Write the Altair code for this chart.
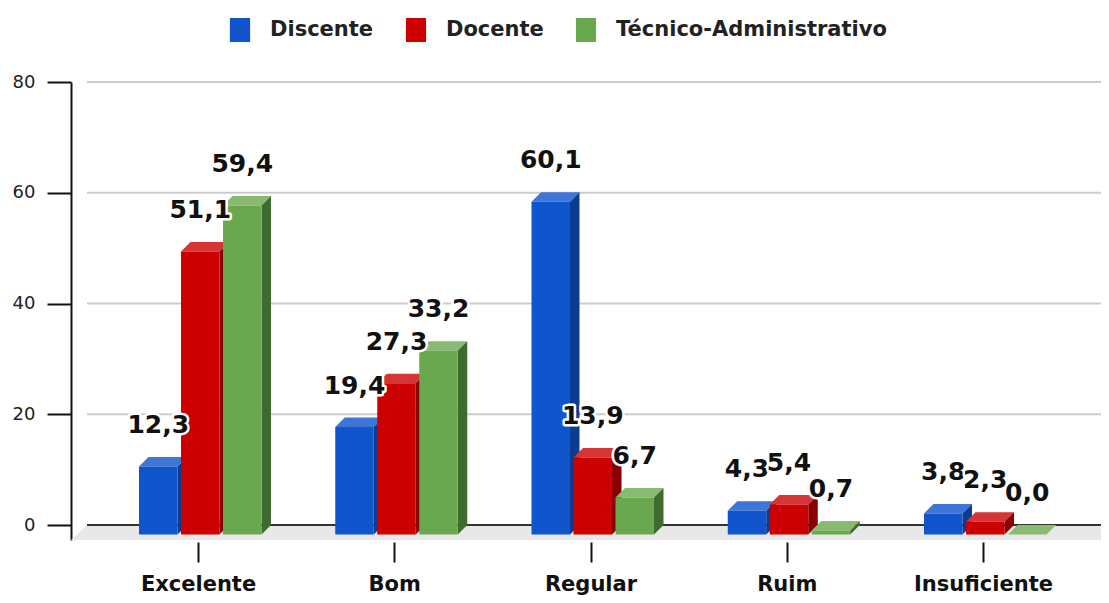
import json
import altair as alt
import pandas as pd

# ---------------- data ----------------
categories = ["Excelente", "Bom", "Regular", "Ruim", "Insuficiente"]
series = ["Discente", "Docente", "Técnico-Administrativo"]
discente = [12.3, 19.4, 60.1, 4.3, 3.8]
docente = [51.1, 27.3, 13.9, 5.4, 2.3]
tecnico = [59.4, 33.2, 6.7, 0.7, 0.0]
y_ticks = [0, 20, 40, 60, 80]
grid_values = [20, 40, 60, 80]

# ---------------- styles ----------------
front_colors = ["#1155CC", "#CC0000", "#6AA84F"]
top_colors = ["#3F75D6", "#D63535", "#88BB70"]
side_colors = ["#0C3C8F", "#880000", "#3F6B30"]

W_PX, H_PX = 1030, 458
STEP_PX = 196.25          # pixels per category
VPX = 5.5375              # pixels per value unit
X_MIN = -127 / STEP_PX
X_MAX = X_MIN + W_PX / STEP_PX
Y_MAX = 80
Y_MIN = Y_MAX - H_PX / VPX
DEPTH = 9.5
DX = DEPTH / STEP_PX
DY = DEPTH / VPX
BAR_W = 38.5 / STEP_PX
BAR_STEP = 42 / STEP_PX
GROUP_START = -59 / STEP_PX
WALL_X = X_MIN + 16 / STEP_PX

values_by_series = [discente, docente, tecnico]

front_rows, top_rows, side_rows = [], [], []
for j, s in enumerate(series):
    for i, c in enumerate(categories):
        v = values_by_series[j][i]
        key = f"{s}-{c}"
        x0 = i + GROUP_START + j * BAR_STEP
        x1 = x0 + BAR_W
        front_rows.append(dict(key=key, series=s, cat=c, x0=x0, x1=x1,
                               yt=v - DY, yb=-DY, v=v, xc=(x0 + x1) / 2,
                               label=f"{v:.1f}".replace(".", ",")))
        top_rows.append(dict(key=key, series=s, y=v - DY, xa=x0, xb=x1))
        top_rows.append(dict(key=key, series=s, y=v, xa=x0 + DX, xb=x1 + DX))
        side_rows.append(dict(key=key, series=s, x=x1, ya=v - DY, yb=-DY))
        side_rows.append(dict(key=key, series=s, x=x1 + DX, ya=v, yb=0))

front_df = pd.DataFrame(front_rows)
top_df = pd.DataFrame(top_rows)
side_df = pd.DataFrame(side_rows)
grid_df = pd.DataFrame({"v": grid_values, "xa": WALL_X, "xb": X_MAX})
zero_df = pd.DataFrame({"v": [0], "xa": [WALL_X], "xb": [X_MAX]})
floor_df = pd.DataFrame({"y": [0, Y_MIN], "xa": [WALL_X, X_MIN], "xb": [X_MAX, X_MAX], "k": ["f", "f"]})

xs = alt.Scale(domain=[X_MIN, X_MAX], nice=False, zero=False)
ys = alt.Scale(domain=[Y_MIN, Y_MAX], nice=False, zero=False)

y_axis = alt.Axis(values=y_ticks, title=None, grid=False, domain=True,
                  domainColor="#111111", domainWidth=2, tickColor="#111111",
                  tickWidth=2, tickSize=24, labelFont="DejaVu Sans",
                  labelFontSize=18, labelColor="#222222", labelPadding=12)
x_axis = alt.Axis(values=list(range(len(categories))),
                  labelExpr=f"{json.dumps(categories, ensure_ascii=False)}[datum.value]",
                  title=None, grid=False, domain=False, ticks=True, tickSize=20,
                  tickWidth=2, tickColor="#111111", offset=2,
                  labelFont="DejaVu Sans", labelFontSize=21, labelFontWeight="bold",
                  labelColor="#111111", labelPadding=11, labelFlush=False,
                  labelOverlap=False, labelBound=False)


def X(field, **kw):
    return alt.X(field, scale=xs, axis=x_axis, **kw)


def Y(field, **kw):
    return alt.Y(field, scale=ys, axis=y_axis, **kw)


layers = []

grid = alt.Chart(grid_df).mark_rule(color="#CCCCCC", strokeWidth=2).encode(
    y=Y("v:Q"), x=X("xa:Q"), x2="xb:Q",
)
layers.append(grid)

floor = alt.Chart(floor_df).mark_area(orient="horizontal", color="#E8E8E8", opacity=1).encode(
    y=Y("y:Q", stack=None), x=X("xa:Q", stack=None), x2="xb:Q", detail="k:N",
)
layers.append(floor)

zero = alt.Chart(zero_df).mark_rule(color="#333333", strokeWidth=2).encode(
    y=Y("v:Q"), x=X("xa:Q"), x2="xb:Q",
)
layers.append(zero)

legend = alt.Legend(
    orient="none", legendX=157, legendY=-64, direction="horizontal", title=None,
    symbolType="M-0.84,-1H0.84V1H-0.84Z", symbolSize=576, symbolStrokeWidth=0,
    symbolOpacity=1, labelFont="DejaVu Sans", labelFontSize=21,
    labelFontWeight="bold", labelColor="#222222", labelOffset=18,
    columnPadding=30, labelLimit=400, padding=0,
)
color_enc = alt.Color("series:N", scale=alt.Scale(domain=series, range=front_colors), legend=legend)

for j, s in enumerate(series):
    tdf = top_df[top_df.series == s]
    sdf = side_df[side_df.series == s]
    fdf = front_df[front_df.series == s]
    top = alt.Chart(tdf).mark_area(orient="horizontal", color=top_colors[j], opacity=1).encode(
        y=Y("y:Q", stack=None), x=X("xa:Q", stack=None), x2="xb:Q", detail="key:N",
    )
    side = alt.Chart(sdf).mark_area(orient="vertical", color=side_colors[j], opacity=1).encode(
        x=X("x:Q", stack=None), y=Y("ya:Q", stack=None), y2="yb:Q", detail="key:N",
    )
    front = alt.Chart(fdf).mark_rect(opacity=1).encode(
        x=X("x0:Q"), x2="x1:Q", y=Y("yt:Q"), y2="yb:Q", color=color_enc,
    )
    layers += [top, side, front]

for j, s in enumerate(series):
    fdf = front_df[front_df.series == s]
    base = alt.Chart(fdf).encode(x=X("xc:Q"), y=Y("v:Q"), text="label:N")
    halo = base.mark_text(font="DejaVu Sans", fontSize=25, fontWeight="bold",
                          align="center", baseline="alphabetic", dy=-24,
                          stroke="white", strokeWidth=5, strokeJoin="round",
                          fill="white")
    txt = base.mark_text(font="DejaVu Sans", fontSize=25, fontWeight="bold",
                         align="center", baseline="alphabetic", dy=-24,
                         fill="#111111")
    layers += [halo, txt]

chart = alt.layer(*layers).properties(
    width=W_PX, height=H_PX,
    padding={"left": 63, "top": 74, "right": 0, "bottom": 55},
    autosize=alt.AutoSizeParams(type="none"),
).configure_view(stroke=None)

chart.save("out.html", embed_options={"renderer": "svg", "actions": False})
